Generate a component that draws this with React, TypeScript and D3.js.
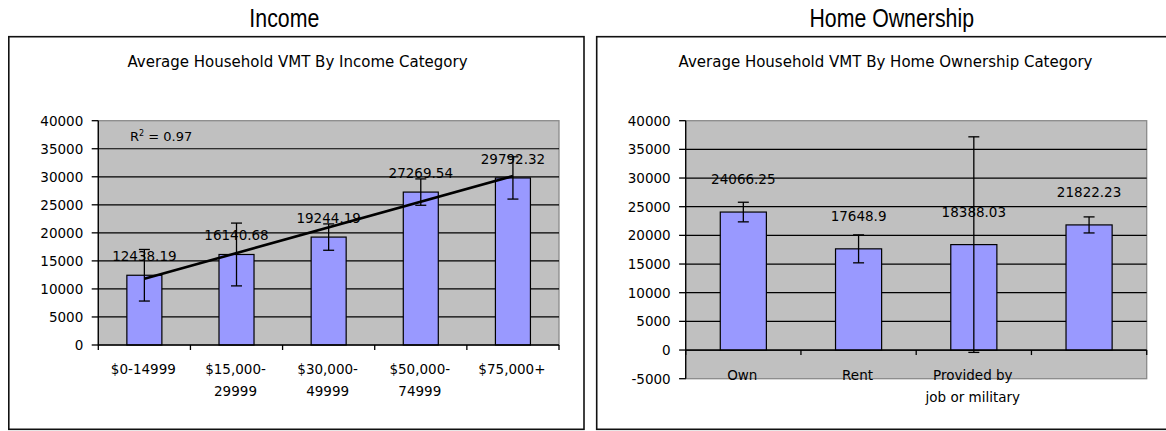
import React from "react";
import * as d3 from "d3";

// ---------- Data ----------
const incomeCategories = ["$0-14999", "$15,000-|29999", "$30,000-|49999", "$50,000-|74999", "$75,000+"];
const incomeValues = [12438.19, 16140.68, 19244.19, 27269.54, 29792.32];
const incomeErrors = [4600, 5600, 2350, 2350, 3770];
const incomeTicks = [0, 5000, 10000, 15000, 20000, 25000, 30000, 35000, 40000];

const homeCategories = ["Own", "Rent", "Provided by|job or military", ""];
const homeValues = [24066.25, 17648.9, 18388.03, 21822.23];
const homeErrors = [1710, 2440, 18800, 1400];
const homeTicks = [-5000, 0, 5000, 10000, 15000, 20000, 25000, 30000, 35000, 40000];

const FONT = "'DejaVu Sans', Verdana, sans-serif";
const BAR_FILL = "#9999FF";
const PLOT_BG = "#C0C0C0";

type PanelProps = {
  sectionTitle: string;
  sectionX: number;
  boxX0: number;
  boxX1: number;
  chartTitle: string;
  titleX: number;
  categories: string[];
  values: number[];
  errors: number[];
  ticks: number[];
  domain: [number, number];
  plotX: [number, number];
  plotY: [number, number]; // [bottom, top]
  barFrac: number;
  labelOffset: number;
  xLabelY: number;
  trend?: boolean;
};

function Panel(p: PanelProps) {
  const x = d3.scaleBand<string>().domain(p.categories.map((c, i) => String(i))).range(p.plotX).padding(0);
  const y = d3.scaleLinear().domain(p.domain).range(p.plotY);
  const bw = x.bandwidth();
  const barW = bw * p.barFrac;
  const cx = (i: number) => (x(String(i)) as number) + bw / 2;
  const y0 = y(0);
  const [pl, pr] = p.plotX;
  const [pb, pt] = p.plotY;
  const boundaries = d3.range(p.categories.length + 1).map((i) => pl + i * bw);

  // regression trend
  let trendEl: React.ReactNode = null;
  let r2Text: string | null = null;
  if (p.trend) {
    const xs = p.values.map((_, i) => i + 1);
    const mx = d3.mean(xs) as number;
    const my = d3.mean(p.values) as number;
    const sxy = d3.sum(xs, (xi, i) => (xi - mx) * (p.values[i] - my));
    const sxx = d3.sum(xs, (xi) => (xi - mx) ** 2);
    const slope = sxy / sxx;
    const icpt = my - slope * mx;
    const sst = d3.sum(p.values, (v) => (v - my) ** 2);
    const sse = d3.sum(xs, (xi, i) => (p.values[i] - (icpt + slope * xi)) ** 2);
    r2Text = d3.format(".2f")(1 - sse / sst);
    const pts: [number, number][] = xs.map((xi, i) => [cx(i), y(icpt + slope * xi)]);
    trendEl = <path d={d3.line()([pts[0], pts[pts.length - 1]]) as string} stroke="#000" strokeWidth={2.6} fill="none" />;
  }

  return (
    <g>
      <g transform={`translate(${p.sectionX},27) scale(0.82,1)`}>
        <text textAnchor="middle" fontFamily="'Liberation Sans', Arial, sans-serif" fontSize={26} fill="#000">
          {p.sectionTitle}
        </text>
      </g>
      <rect x={p.boxX0} y={36.7} width={p.boxX1 - p.boxX0} height={429.3 - 36.7} fill="#fff" stroke="#111" strokeWidth={1.6} />
      <text x={p.titleX} y={67} textAnchor="middle" fontFamily={FONT} fontSize={15} fill="#000">
        {p.chartTitle}
      </text>
      {/* plot area */}
      <rect x={pl} y={pt} width={pr - pl} height={pb - pt} fill={PLOT_BG} stroke="#8a8a8a" strokeWidth={1.3} />
      {p.ticks.filter((t) => t !== p.domain[0] && t !== p.domain[1]).map((t) => (
        <line key={t} x1={pl} x2={pr} y1={y(t)} y2={y(t)} stroke="#000" strokeWidth={1.2} />
      ))}
      {/* bars */}
      {p.values.map((v, i) => (
        <rect key={i} x={cx(i) - barW / 2} y={y(Math.max(v, 0))} width={barW} height={Math.abs(y(v) - y0)} fill={BAR_FILL} stroke="#000" strokeWidth={1.2} />
      ))}
      {/* y axis */}
      <line x1={pl} x2={pl} y1={pt} y2={pb} stroke="#000" strokeWidth={1.3} />
      {p.ticks.map((t) => (
        <g key={t}>
          <line x1={pl - 6.6} x2={pl} y1={y(t)} y2={y(t)} stroke="#000" strokeWidth={1.3} />
          <text x={pl - 15} y={y(t)} dy="0.36em" textAnchor="end" fontFamily={FONT} fontSize={13.5} fill="#000">
            {t}
          </text>
        </g>
      ))}
      {/* category axis */}
      <line x1={pl} x2={pr} y1={y0} y2={y0} stroke="#000" strokeWidth={1.3} />
      {boundaries.map((b, i) => (
        <line key={i} x1={b} x2={b} y1={y0} y2={y0 + 5} stroke="#000" strokeWidth={1.3} />
      ))}
      {/* error bars */}
      {p.values.map((v, i) => {
        const e = p.errors[i];
        const c = cx(i);
        return (
          <g key={i} stroke="#000" strokeWidth={1.3}>
            <line x1={c} x2={c} y1={y(v + e)} y2={y(v - e)} />
            <line x1={c - 5.5} x2={c + 5.5} y1={y(v + e)} y2={y(v + e)} />
            <line x1={c - 5.5} x2={c + 5.5} y1={y(v - e)} y2={y(v - e)} />
          </g>
        );
      })}
      {trendEl}
      {r2Text && (
        <text x={pl + 31.7} y={141} fontFamily={FONT} fontSize={13} fill="#000">
          R<tspan fontSize={8} dy={-5}>2</tspan>
          <tspan dy={5}>{` = ${r2Text}`}</tspan>
        </text>
      )}
      {/* data labels */}
      {p.values.map((v, i) => (
        <text key={i} x={cx(i)} y={y(v) - p.labelOffset} textAnchor="middle" fontFamily={FONT} fontSize={13.5} fill="#000">
          {String(v)}
        </text>
      ))}
      {/* category labels */}
      {p.categories.map((c, i) => (
        <text key={i} x={cx(i) - 1} y={p.xLabelY} textAnchor="middle" fontFamily={FONT} fontSize={13.5} fill="#000">
          {c.split("|").map((ln, j) => (
            <tspan key={j} x={cx(i) - 1} dy={j === 0 ? 0 : 21.5}>
              {ln}
            </tspan>
          ))}
        </text>
      ))}
    </g>
  );
}

export default function App() {
  return (
    <svg width={1166} height={431} style={{ position: "absolute", left: 0, top: 0, display: "block", background: "#fff" }}>
      <Panel
        sectionTitle="Income"
        sectionX={284.3}
        boxX0={8.8}
        boxX1={584}
        chartTitle="Average Household VMT By Income Category"
        titleX={297.5}
        categories={incomeCategories}
        values={incomeValues}
        errors={incomeErrors}
        ticks={incomeTicks}
        domain={[0, 40000]}
        plotX={[98.3, 559]}
        plotY={[345, 120.7]}
        barFrac={0.38}
        labelOffset={14}
        xLabelY={374}
        trend
      />
      <Panel
        sectionTitle="Home Ownership"
        sectionX={891.7}
        boxX0={596.7}
        boxX1={1190}
        chartTitle="Average Household VMT By Home Ownership Category"
        titleX={885.5}
        categories={homeCategories}
        values={homeValues}
        errors={homeErrors}
        ticks={homeTicks}
        domain={[-5000, 40000]}
        plotX={[685.7, 1146.7]}
        plotY={[378.7, 120.7]}
        barFrac={0.4}
        labelOffset={28}
        xLabelY={380}
      />
    </svg>
  );
}
